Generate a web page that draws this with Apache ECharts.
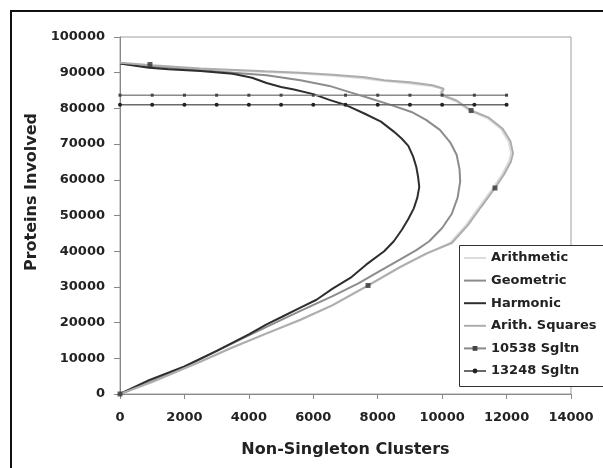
<!DOCTYPE html>
<html>
<head>
<meta charset="utf-8">
<script src="https://cdn.jsdelivr.net/npm/echarts@6/dist/echarts.min.js"></script>
<style>
html,body{margin:0;padding:0;background:#fff;overflow:hidden;}
#chart{width:603px;height:468px;}
</style>
</head>
<body>
<div id="chart"></div>
<script>
// ---- data (x = Non-Singleton Clusters, y = Proteins Involved) ----
const arithmetic = [[0,0],[1000,3300],[2000,7100],[2500,9000],[3500,13000],[4550,16900],[5600,20700],[6600,24800],[7700,30300],[8700,35500],[9500,39200],[10250,42300],[10740,47300],[11140,52300],[11580,57700],[11860,61500],[12070,65000],[12140,67400],[12060,70800],[11820,74300],[11400,77300],[10860,79300],[10420,82000],[10000,83500],[9950,84400],[10000,85600],[9700,86200],[9000,87000],[8200,87700],[7600,88400],[6600,89200],[5600,89800],[4500,90200],[2500,91000],[1000,91900],[0,92600]];
const geometric = [[0,0],[1000,3800],[2000,7600],[3000,12000],[4000,16400],[4550,18800],[5600,23300],[6600,27400],[7400,31000],[8100,34600],[8700,37700],[9200,40300],[9600,42800],[10000,46500],[10300,50500],[10480,55000],[10560,59500],[10540,63000],[10450,67000],[10250,70500],[9930,74000],[9500,76800],[9050,79000],[8400,81000],[7800,82700],[7150,84500],[6500,86300],[5600,87900],[4550,89300],[3500,90000],[2500,90700],[1000,91700],[0,92600]];
const harmonic = [[0,0],[900,3900],[2000,7700],[3000,12100],[4000,16700],[4550,19500],[5000,21500],[5600,24200],[6100,26400],[6600,29500],[7150,32500],[7650,36300],[8200,40000],[8500,42800],[8750,46000],[8950,49000],[9120,52000],[9230,55000],[9290,58000],[9250,61000],[9200,63500],[9100,66500],[8950,69500],[8750,71500],[8500,73500],[8100,76300],[7600,78500],[7050,80800],[6500,82400],[6000,84000],[5400,85300],[5000,86000],[4550,87100],[4100,88600],[3500,89700],[2500,90500],[1500,91000],[900,91400],[0,92600]];
const arithSquares = [[0,0],[1000,3400],[2000,7200],[2500,9100],[3500,13100],[4550,17000],[5600,20800],[6600,24900],[7700,30400],[8700,35600],[9500,39300],[10300,42300],[10800,47300],[11200,52300],[11640,57700],[11920,61500],[12130,65000],[12200,67400],[12120,70800],[11880,74300],[11450,77400],[10900,79400],[10450,82200],[10100,83400],[9980,84300],[10050,85500],[10000,86000],[9700,86500],[9000,87300],[8200,87900],[7600,88700],[6600,89400],[5600,90000],[4500,90400],[2500,91200],[1000,92100],[0,92800]];
const squareMarkers = [[0,0],[930,92300],[7700,30400],[11640,57700],[10900,79400]];
const sgltnX = [0,1000,2000,3000,4000,5000,6000,7000,8000,9000,10000,11000,12000];
const sgltn10538 = 83700;
const sgltn13248 = 81000;
const seriesNames = ['Arithmetic','Geometric','Harmonic','Arith. Squares','10538 Sgltn','13248 Sgltn'];

const FONT = 'DejaVu Sans';
const BAR = 'path://M0,0 L22,0 L22,2 L0,2 Z';
const chart = echarts.init(document.getElementById('chart'), null, {renderer:'canvas'});
const flat = (name, color, w, data, z) => ({
  name, type:'line', data, symbol:'none', smooth:false, z,
  lineStyle:{color, width:w}, itemStyle:{color}
});
chart.setOption({
  animation:false,
  backgroundColor:'#ffffff',
  grid:{left:120, right:32, top:37, bottom:74, show:true, borderColor:'#a0a0a0', borderWidth:1, backgroundColor:'transparent'},
  xAxis:{type:'value', min:0, max:14000, interval:2000,
    name:'Non-Singleton Clusters', nameLocation:'middle', nameGap:48,
    nameTextStyle:{fontFamily:FONT, fontWeight:'bold', fontSize:16, color:'#222'},
    axisLine:{lineStyle:{color:'#888'}}, axisTick:{show:true, length:5, lineStyle:{color:'#888'}},
    splitLine:{show:false},
    axisLabel:{fontFamily:FONT, fontWeight:'bold', fontSize:13, color:'#222', margin:17, formatter:v=>String(v)}},
  yAxis:{type:'value', min:0, max:100000, interval:10000,
    axisLine:{show:true, lineStyle:{color:'#888'}}, axisTick:{show:true, length:6, lineStyle:{color:'#888'}},
    splitLine:{show:false},
    axisLabel:{fontFamily:FONT, fontWeight:'bold', fontSize:13, color:'#222', margin:15, formatter:v=>String(v)}},
  legend:{orient:'vertical', left:459, top:245, padding:[6,0,9,4], z:60,
    itemWidth:22, itemHeight:6, itemGap:8.6,
    textStyle:{fontFamily:FONT, fontWeight:'bold', fontSize:13, color:'#222', lineHeight:14},
    data:[
      {name:seriesNames[0], icon:BAR},
      {name:seriesNames[1], icon:BAR},
      {name:seriesNames[2], icon:BAR},
      {name:seriesNames[3], icon:BAR},
      {name:seriesNames[4]},
      {name:seriesNames[5]}
    ]},
  graphic:[
    {type:'polyline', shape:{points:[[11,480],[11,11],[620,11]]}, style:{fill:null, stroke:'#111', lineWidth:2}, z:100, silent:true},
    {type:'rect', shape:{x:459.5, y:245.5, width:200, height:141}, style:{fill:'#fff', stroke:'#333', lineWidth:1}, z:50, silent:true},
    {type:'text', x:32, y:192, rotation:Math.PI/2, style:{text:'Proteins Involved', fontFamily:FONT, fontWeight:'bold', fontSize:16, fill:'#222', textAlign:'center', textVerticalAlign:'middle'}}
  ],
  series:[
    flat('Arithmetic','#dcdcdc',2,arithmetic,2),
    flat('Geometric','#8c8c8c',2,geometric,3),
    flat('Harmonic','#2e2e2e',2,harmonic,4),
    flat('Arith. Squares','#adadad',2,arithSquares,5),
    {name:'10538 Sgltn', type:'line', data:sgltnX.map(x=>[x,sgltn10538]), symbol:'rect', symbolSize:3, showSymbol:true,
      lineStyle:{color:'#8a8a8a', width:1.5}, itemStyle:{color:'#444'}, z:6},
    {name:'13248 Sgltn', type:'line', data:sgltnX.map(x=>[x,sgltn13248]), symbol:'circle', symbolSize:4, showSymbol:true,
      lineStyle:{color:'#6a6a6a', width:1.5}, itemStyle:{color:'#222'}, z:6},
    {name:'marks', type:'scatter', data:squareMarkers, symbol:'rect', symbolSize:5, itemStyle:{color:'#333'}, z:7}
  ]
});
</script>
</body>
</html>
